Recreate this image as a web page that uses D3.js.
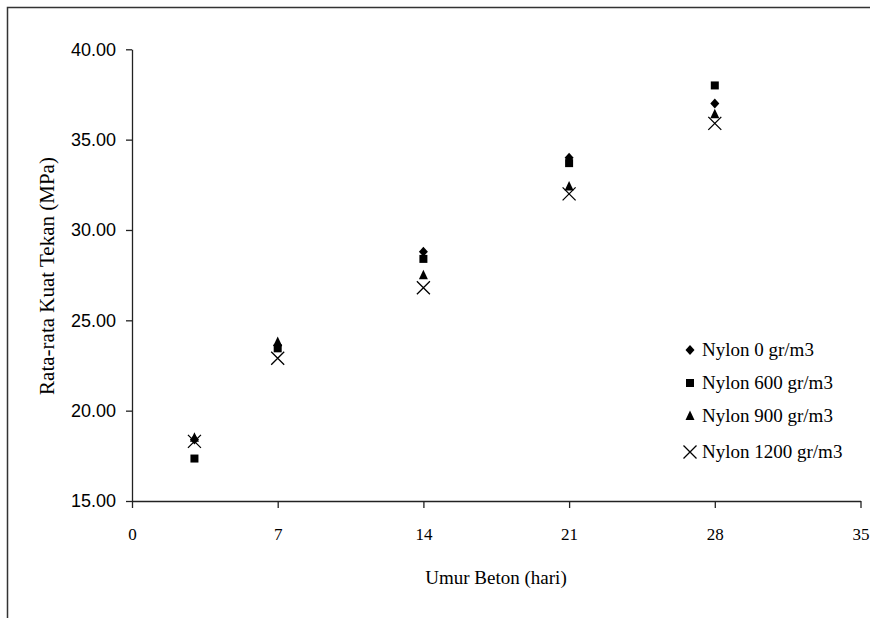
<!DOCTYPE html>
<html><head><meta charset="utf-8">
<script src="https://cdn.jsdelivr.net/npm/d3@7/dist/d3.min.js"></script>
<style>body{margin:0;background:#fff}svg{display:block}</style>
</head><body>
<svg id="c" width="870" height="618"></svg>
<script>
const days = [3, 7, 14, 21, 28];
const seriesNames = ["Nylon 0 gr/m3", "Nylon 600 gr/m3", "Nylon 900 gr/m3", "Nylon 1200 gr/m3"];
const nylon0 = [18.4, 23.6, 28.8, 34.0, 37.0];
const nylon600 = [17.35, 23.45, 28.4, 33.7, 38.0];
const nylon900 = [18.5, 23.8, 27.5, 32.4, 36.4];
const nylon1200 = [18.3, 22.9, 26.8, 32.0, 35.9];
const xTicks = [0, 7, 14, 21, 28, 35];
const yTicks = [15, 20, 25, 30, 35, 40];
const markerTypes = ["diamond", "square", "triangle", "cross"];

const svg = d3.select("#c");
const x = d3.scaleLinear().domain([0, 35]).range([132, 860.5]);
const y = d3.scaleLinear().domain([15, 40]).range([501, 49.3]);
const serif = "Liberation Serif, Times New Roman, serif";

// outer frame
svg.append("path").attr("d", "M7.5,618 V7.5 H870").attr("fill", "none").attr("stroke", "#333").attr("stroke-width", 1.5);

const xAxis = svg.append("g").attr("transform", "translate(0,501)")
  .call(d3.axisBottom(x).tickValues(xTicks).tickSize(7).tickPadding(20).tickSizeOuter(0));
const yAxis = svg.append("g").attr("transform", "translate(132,0)")
  .call(d3.axisLeft(y).tickValues(yTicks).tickSize(6).tickPadding(10).tickSizeOuter(0).tickFormat(d3.format(".2f")));
[xAxis, yAxis].forEach(a => {
  a.selectAll("path,line").attr("stroke", "#222").attr("stroke-width", 1.3);
  a.selectAll("text").attr("fill", "#000");
});
xAxis.selectAll("text").attr("font-family", serif).attr("font-size", 17);
yAxis.selectAll("text").attr("font-family", "Liberation Sans, Arial, sans-serif").attr("font-size", 18);

svg.append("text").attr("x", 496).attr("y", 584).attr("text-anchor", "middle")
  .attr("font-family", serif).attr("font-size", 19).text("Umur Beton (hari)");
svg.append("text").attr("transform", "translate(54,276) rotate(-90)").attr("text-anchor", "middle")
  .attr("font-family", serif).attr("font-size", 21).text("Rata-rata Kuat Tekan (MPa)");

function marker(g, type, cx, cy) {
  if (type === "diamond") {
    g.append("path").attr("d", `M${cx},${cy-5} L${cx+4.5},${cy} L${cx},${cy+5} L${cx-4.5},${cy} Z`).attr("fill", "#000");
  } else if (type === "square") {
    g.append("rect").attr("x", cx-4).attr("y", cy-4).attr("width", 8).attr("height", 8).attr("fill", "#000");
  } else if (type === "triangle") {
    g.append("path").attr("d", `M${cx},${cy-5.5} L${cx+4.5},${cy+4} L${cx-4.5},${cy+4} Z`).attr("fill", "#000");
  } else {
    g.append("path").attr("d", `M${cx-6.5},${cy-6.5} L${cx+6.5},${cy+6.5} M${cx+6.5},${cy-6.5} L${cx-6.5},${cy+6.5}`)
      .attr("stroke", "#000").attr("stroke-width", 1.3).attr("fill", "none");
  }
}

const allSeries = [nylon0, nylon600, nylon900, nylon1200];
const pts = svg.append("g");
allSeries.forEach((vals, si) => {
  vals.forEach((v, i) => marker(pts, markerTypes[si], x(days[i]), y(v)));
});

const legY = [350, 383, 416, 452];
const leg = svg.append("g");
seriesNames.forEach((n, i) => {
  marker(leg, markerTypes[i], 690, legY[i]);
  leg.append("text").attr("x", 702).attr("y", legY[i] + 6).attr("font-family", serif)
    .attr("font-size", 19).text(n);
});
</script>
</body></html>
